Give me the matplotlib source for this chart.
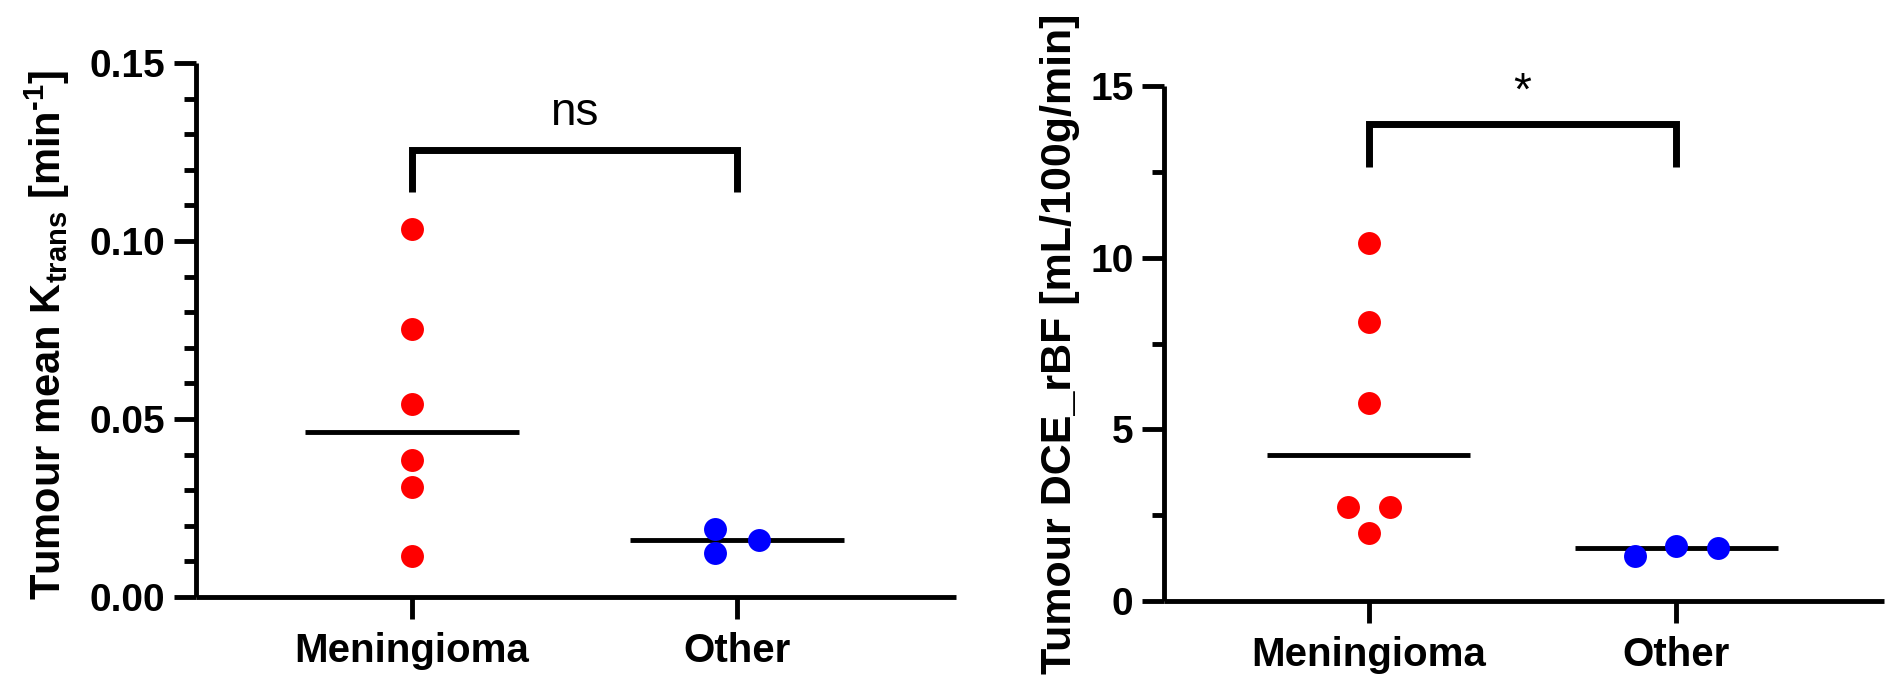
import numpy as np
import matplotlib
matplotlib.use('Agg')
import matplotlib.pyplot as plt
from matplotlib.ticker import MultipleLocator

# data
groups = ['Meningioma', 'Other']

ktrans_meningioma = [0.1034, 0.0752, 0.0543, 0.0386, 0.0308, 0.0114]
ktrans_other = [0.0191, 0.0123, 0.0159]

rbf_meningioma = [10.42, 8.14, 5.76, 2.73, 2.73, 1.97]
rbf_other = [1.31, 1.59, 1.53]

ktrans_sig = 'ns'
rbf_sig = '*'

# horizontal spread of the dots (scatter dot plot layout)
ktrans_spread = ([0, 0, 0, 0, 0, 0], [-0.066, -0.066, 0.068])
rbf_spread = ([0, 0, 0, -0.068, 0.068, 0], [-0.135, 0, 0.135])

plt.rcParams['font.family'] = ['Liberation Sans', 'DejaVu Sans']
plt.rcParams['font.weight'] = 'bold'
plt.rcParams['mathtext.default'] = 'regular'

RED = '#ff0000'
BLUE = '#0000ff'
LW = 3.5


def dot_panel(ax, values, spread, ylabel, ylabel_size, ymax, major, minor, fmt,
              bracket, sig, sig_y):
    colors = [RED, BLUE]
    for i, (vals, off) in enumerate(zip(values, spread)):
        x = i + np.array(off)
        ax.plot(x, vals, 'o', color=colors[i], markersize=16.5, markeredgewidth=0, zorder=3)
        med = np.median(vals)
        ax.plot([i - 0.33, i + 0.33], [med, med], color='black', lw=LW,
                solid_capstyle='butt', zorder=2)

    # significance bracket
    lo, hi = bracket
    ax.plot([0, 0, 1, 1], [lo, hi, hi, lo], color='black', lw=5,
            solid_capstyle='butt', solid_joinstyle='miter', clip_on=False)
    ax.text(0.5, sig_y, sig, ha='center', va='baseline', fontsize=33,
            fontweight='normal')

    ax.set_xlim(-0.665, 1.675)
    ax.set_ylim(0, ymax)
    ax.set_xticks([0, 1])
    ax.set_xticklabels(groups)
    ax.yaxis.set_major_locator(MultipleLocator(major))
    ax.yaxis.set_minor_locator(MultipleLocator(minor))
    ax.yaxis.set_major_formatter(fmt)

    for s in ['top', 'right']:
        ax.spines[s].set_visible(False)
    for s in ['left', 'bottom']:
        ax.spines[s].set_linewidth(LW)
        ax.spines[s].set_capstyle('butt')

    ax.tick_params(axis='both', which='major', length=16, width=LW, pad=6)
    ax.tick_params(axis='x', pad=9, labelsize=29)
    ax.tick_params(axis='y', labelsize=28)
    ax.tick_params(axis='y', which='minor', length=9, width=LW)
    ax.set_ylabel(ylabel, fontsize=ylabel_size, fontweight='bold')


fig = plt.figure(figsize=(19.02, 6.85), dpi=100)
ax1 = fig.add_axes([196 / 1902, 1 - 597 / 685, 760 / 1902, 534 / 685])
ax2 = fig.add_axes([1164 / 1902, 1 - 601 / 685, 720 / 1902, 515 / 685])

dot_panel(ax1, [ktrans_meningioma, ktrans_other], ktrans_spread,
          'Tumour mean K$_{trans}$ [min$^{‐1}$]', 30, 0.15, 0.05, 0.01, '{x:.2f}',
          (0.1138, 0.1255), ktrans_sig, 0.1325)
dot_panel(ax2, [rbf_meningioma, rbf_other], rbf_spread,
          'Tumour DCE_rBF [mL/100g/min]', 31, 15, 5, 2.5, '{x:.0f}',
          (12.65, 13.88), rbf_sig, 14.45)

ax1.yaxis.set_label_coords(-0.163, 0.49)
ax2.yaxis.set_label_coords(-0.117, 0.5)

fig.savefig('out.png', dpi=100)
